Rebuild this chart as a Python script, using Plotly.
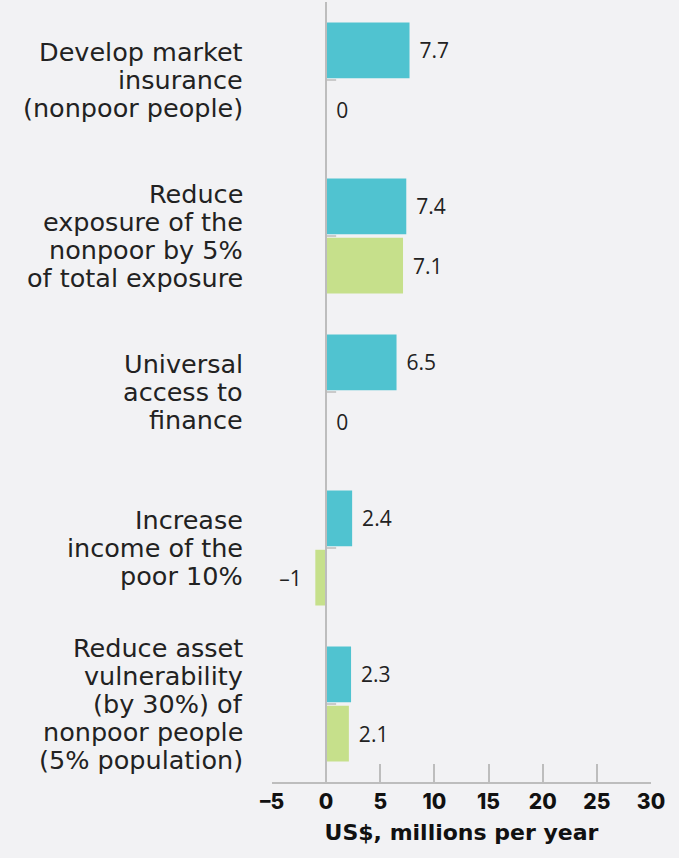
import plotly.graph_objects as go

categories = [
    "Develop market<br>insurance<br>(nonpoor people)",
    "Reduce<br>exposure of the<br>nonpoor by 5%<br>of total exposure",
    "Universal<br>access to<br>finance",
    "Increase<br>income of the<br>poor 10%",
    "Reduce asset<br>vulnerability<br>(by 30%) of<br>nonpoor people<br>(5% population)",
]
series_a = [7.7, 7.4, 6.5, 2.4, 2.3]
series_b = [0, 7.1, 0, -1, 2.1]
x_ticks = [-5, 0, 5, 10, 15, 20, 25, 30]

TEAL = "#50C3D0"
GREEN = "#C6E08B"
BG = "#F2F2F4"
GRAY = "#BDBDBD"
LINE_PX = 28


def fmt(v):
    s = f"{v:g}"
    return s.replace("-", "–")


def label(v):
    return (fmt(v) + "\u2002") if v < 0 else ("\u2004" + fmt(v))


VAL_FONT = dict(family="Open Sans", size=21, color="#222222")

fig = go.Figure()
for vals, col in ((series_a, TEAL), (series_b, GREEN)):
    fig.add_trace(go.Bar(
        y=categories, x=vals, orientation="h",
        marker=dict(color=col, line=dict(width=0)),
        text=[label(v) for v in vals], textposition="outside",
        textfont=VAL_FONT, cliponaxis=False, showlegend=False,
    ))

shapes = []
for c in categories:
    shapes.append(dict(type="line", xref="x", yref="y", xsizemode="pixel", xanchor=0,
                       x0=0, x1=10, y0=c, y1=c, line=dict(color=GRAY, width=1.5), layer="above"))

annotations = []
for c in categories:
    lines = c.split("<br>")
    n = len(lines)
    for j, ln in enumerate(lines):
        annotations.append(dict(
            xref="paper", x=0, xanchor="right", xshift=-27,
            yref="y", y=c, yanchor="middle", yshift=((n - 1) / 2 - j) * LINE_PX,
            text=ln, showarrow=False,
            font=dict(family="DejaVu Sans", size=25.5, color="#222222"),
        ))

fig.update_layout(
    width=679, height=858,
    margin=dict(l=272, r=28, t=2, b=76),
    paper_bgcolor=BG, plot_bgcolor=BG,
    barmode="group", bargap=0.24, bargroupgap=0.06,
    shapes=shapes, annotations=annotations,
    xaxis=dict(
        range=[-5, 30], tickvals=x_ticks, ticktext=[fmt(v) for v in x_ticks],
        showgrid=False, zeroline=True, zerolinecolor=GRAY, zerolinewidth=2,
        showline=True, linecolor=GRAY, linewidth=1.5,
        ticks="inside", ticklen=18, tickcolor=GRAY, tickwidth=1.5,
        tickfont=dict(family="Inter", size=21, color="#111111", weight=800),
        title=dict(text="US$, millions per year", standoff=12,
                   font=dict(family="DejaVu Sans", size=22, color="#111111", weight="bold")),
    ),
    yaxis=dict(
        autorange="reversed", showgrid=False, zeroline=False, showline=False,
        ticks="", showticklabels=False,
    ),
)

try:
    fig.update_xaxes(zerolinelayer="above traces")
except (ValueError, AttributeError):
    pass

fig.write_html("out.html")
